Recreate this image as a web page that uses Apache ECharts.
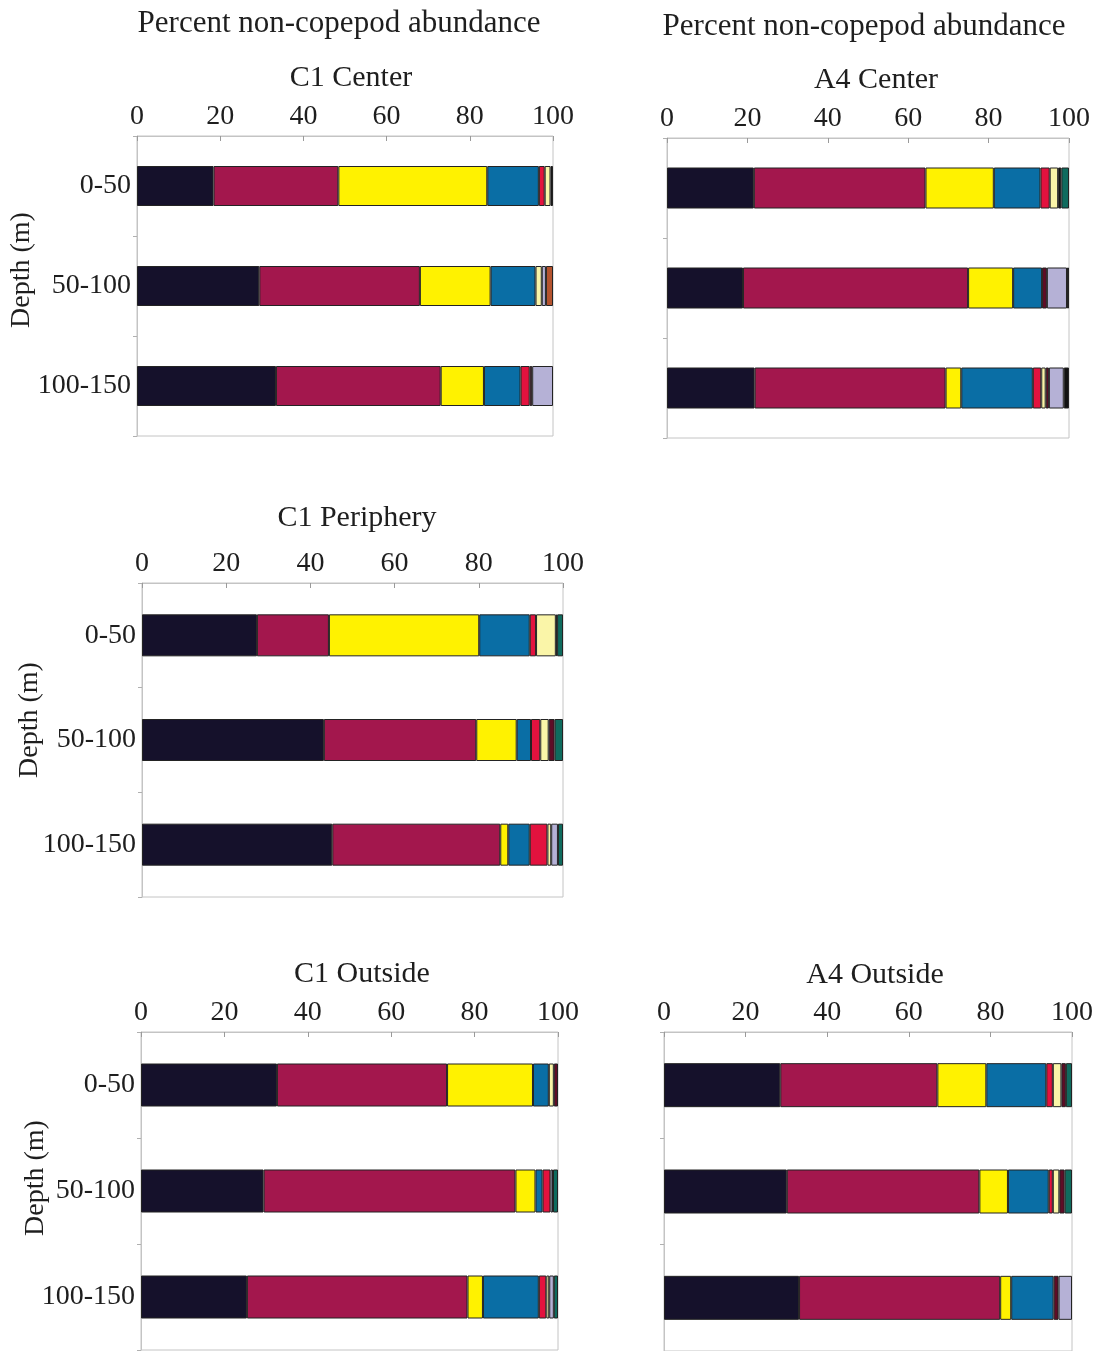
<!DOCTYPE html>
<html>
<head>
<meta charset="utf-8">
<script src="https://cdn.jsdelivr.net/npm/echarts@6/dist/echarts.min.js"></script>
<style>
  html, body { margin: 0; padding: 0; background: #ffffff; }
  #chart { width: 1096px; height: 1351px; }
</style>
</head>
<body>
<div id="chart"></div>
<script>
// Depth strata (rows) and the taxon groups stacked within each bar (columns).
const depthLabels = ['0-50', '50-100', '100-150'];
const tickValues = [0, 20, 40, 60, 80, 100];
const groupKeys = ['navy', 'maroon', 'yellow', 'blue', 'red', 'paleYellow', 'darkMaroon', 'lavender', 'black', 'teal', 'brown'];
const groupColors = ['#15112b', '#a3174d', '#fff200', '#0a6ea5', '#e3123e', '#faf5a8', '#5e0c26', '#b5b1d6', '#111111', '#0f6b5e', '#b4532e'];

// Percent of non-copepod abundance, one row per depth stratum, columns follow groupKeys.
const c1Center = [
  [18.4, 30.0, 35.8, 12.4, 1.4, 1.4, 0, 0, 0.6, 0, 0],
  [29.4, 38.6, 17.0, 10.8, 0, 1.5, 0, 1.0, 0, 0, 1.7],
  [33.4, 39.6, 10.4, 8.8, 2.2, 0, 0.6, 5.0, 0, 0, 0]
];
const a4Center = [
  [21.6, 42.7, 17.0, 11.6, 2.3, 2.1, 0, 0, 0.8, 1.9, 0],
  [18.9, 56.0, 11.2, 7.2, 0, 0, 1.2, 5.0, 0.5, 0, 0],
  [21.8, 47.5, 3.9, 17.8, 2.1, 1.1, 0.8, 3.7, 1.3, 0, 0]
];
const c1Periphery = [
  [27.3, 17.1, 35.7, 12.0, 1.5, 4.7, 0.3, 0, 0, 1.4, 0],
  [43.2, 36.2, 9.6, 3.4, 2.2, 2.0, 1.4, 0, 0, 2.0, 0],
  [45.2, 39.9, 1.9, 5.1, 4.2, 0.9, 0, 1.6, 0, 1.2, 0]
];
const c1Outside = [
  [32.6, 40.8, 20.6, 3.8, 0, 1.2, 1.0, 0, 0, 0, 0],
  [29.4, 60.4, 4.8, 1.7, 1.9, 0, 0, 0.6, 0, 1.2, 0],
  [25.4, 52.9, 3.7, 13.4, 1.8, 0.7, 0, 1.1, 0, 1.0, 0]
];
const a4Outside = [
  [28.5, 38.5, 12.0, 14.7, 1.6, 2.1, 1.1, 0, 0, 1.5, 0],
  [30.1, 47.2, 7.0, 10.0, 1.0, 1.6, 1.3, 0, 0, 1.8, 0],
  [33.1, 49.3, 2.7, 10.4, 0, 0, 1.2, 3.3, 0, 0, 0]
];

// Panel layout: data, titles, plot box and label visibility.
const panels = [
  { data: c1Center,    title: 'C1 Center',    titleX: 351, titleY: 78,  left: 137, top: 136,  width: 416, height: 300, bar: 40, labels: true,  depthX: 22, depthY: 270 },
  { data: a4Center,    title: 'A4 Center',    titleX: 876, titleY: 80,  left: 667, top: 138,  width: 402, height: 300, bar: 41, labels: false },
  { data: c1Periphery, title: 'C1 Periphery', titleX: 357, titleY: 518, left: 142, top: 583,  width: 421, height: 314, bar: 42, labels: true,  depthX: 30, depthY: 720 },
  { data: c1Outside,   title: 'C1 Outside',   titleX: 362, titleY: 974, left: 141, top: 1032, width: 417, height: 318, bar: 43, labels: true,  depthX: 36, depthY: 1178 },
  { data: a4Outside,   title: 'A4 Outside',   titleX: 875, titleY: 975, left: 664, top: 1032, width: 408, height: 320, bar: 44, labels: false }
];

const serif = '"Liberation Serif", "DejaVu Serif", serif';
const textColor = '#1e1e1e';
const frameColor = '#c4c4c4';

const grid = [], xAxis = [], yAxis = [], series = [], graphic = [];

graphic.push(
  { type: 'text', x: 339, y: 24, style: { text: 'Percent non-copepod abundance', font: '31px ' + serif, fill: textColor, textAlign: 'center', textVerticalAlign: 'middle' } },
  { type: 'text', x: 864, y: 27, style: { text: 'Percent non-copepod abundance', font: '31px ' + serif, fill: textColor, textAlign: 'center', textVerticalAlign: 'middle' } }
);

panels.forEach((p, i) => {
  grid.push({ left: p.left, top: p.top, width: p.width, height: p.height, show: true, borderColor: frameColor, borderWidth: 1, backgroundColor: 'transparent' });
  xAxis.push({
    gridIndex: i, type: 'value', position: 'top', min: tickValues[0], max: tickValues[tickValues.length - 1], interval: tickValues[1] - tickValues[0],
    axisLine: { show: true, lineStyle: { color: frameColor, width: 1 } },
    axisTick: { show: true, inside: true, length: 5, lineStyle: { color: '#9a9a9a' } },
    splitLine: { show: false },
    axisLabel: { show: true, fontFamily: serif, fontSize: 28, color: textColor, margin: 5 }
  });
  yAxis.push({
    gridIndex: i, type: 'category', data: depthLabels, inverse: true,
    axisLine: { show: true, lineStyle: { color: frameColor, width: 1 } },
    axisTick: { show: true, length: 4, lineStyle: { color: '#b0b0b0' } },
    axisLabel: { show: p.labels, fontFamily: serif, fontSize: 28, color: textColor, margin: 6 }
  });
  graphic.push({ type: 'text', x: p.titleX, y: p.titleY, style: { text: p.title, font: '30px ' + serif, fill: textColor, textAlign: 'center', textVerticalAlign: 'middle' } });
  if (p.labels) {
    graphic.push({ type: 'text', x: p.depthX, y: p.depthY, rotation: Math.PI / 2, style: { text: 'Depth (m)', font: '28px ' + serif, fill: textColor, textAlign: 'center', textVerticalAlign: 'middle' } });
  }
  groupKeys.forEach((key, k) => {
    series.push({
      name: key, type: 'bar', stack: 'panel' + i, xAxisIndex: i, yAxisIndex: i,
      barWidth: p.bar,
      data: p.data.map(row => (row[k] > 0 ? row[k] : null)),
      itemStyle: { color: groupColors[k], borderColor: '#232323', borderWidth: 1 },
      emphasis: { disabled: true },
      silent: true
    });
  });
});

const chart = echarts.init(document.getElementById('chart'), null, { renderer: 'canvas' });
chart.setOption({
  animation: false,
  backgroundColor: '#ffffff',
  grid, xAxis, yAxis, series, graphic
});
</script>
</body>
</html>
